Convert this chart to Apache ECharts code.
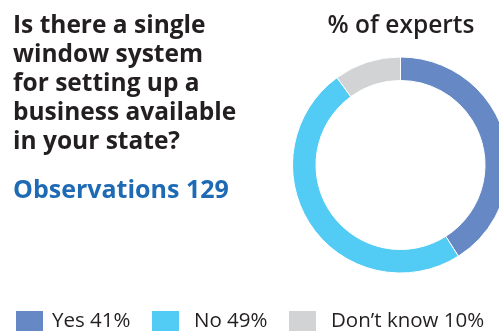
<!DOCTYPE html>
<html>
<head>
<meta charset="utf-8">
<script src="https://cdn.jsdelivr.net/npm/echarts@6/dist/echarts.min.js"></script>
<style>
  html, body { margin: 0; padding: 0; background: #fff; }
  #chart { width: 499px; height: 331px; }
</style>
</head>
<body>
<div id="chart"></div>
<script>
// Survey answers and their shares
const categories = ['Yes', 'No', "Don\u2019t know"];
const shares = [41, 49, 10];
const colors = ['#6689c6', '#52cbf5', '#d1d3d4'];
const questionLines = ['Is there a single', 'window system', 'for setting up a', 'business available', 'in your state?'];
const observations = 129;

const chart = echarts.init(document.getElementById('chart'), null, { renderer: 'canvas' });

// One legend block per answer so each swatch sits at its own spot on the bottom row
const legendLefts = [14, 150, 287];
const legendTextGaps = [3, 9, 9];
const legends = categories.map((name, i) => ({
  data: [name],
  left: legendLefts[i],
  top: 309,
  padding: 0,
  orient: 'horizontal',
  icon: 'rect',
  itemWidth: 29,
  itemHeight: 22,
  itemGap: 0,
  selectedMode: false,
  formatter: n => n + ' ' + shares[categories.indexOf(n)] + '%',
  textStyle: { fontFamily: 'Open Sans', fontSize: 20.5, color: '#231f20', padding: [0, 0, 0, legendTextGaps[i]] }
}));

chart.setOption({
  animation: false,
  color: colors,
  title: [
    {
      text: questionLines.join('\n'),
      left: 13, top: 12,
      padding: 0,
      textStyle: { fontFamily: 'Open Sans', fontWeight: 'bold', fontSize: 24.5, lineHeight: 29, color: '#231f20' }
    },
    {
      text: 'Observations ' + observations,
      left: 13, top: 178,
      padding: 0,
      textStyle: { fontFamily: 'Open Sans', fontWeight: 'bold', fontSize: 25, color: '#1f6ab4' }
    },
    {
      text: '% of experts',
      left: 401, top: 14, textAlign: 'center',
      padding: 0,
      textStyle: { fontFamily: 'Open Sans', fontWeight: 600, fontSize: 24.5, color: '#231f20' }
    }
  ],
  legend: legends,
  series: [{
    type: 'pie',
    center: [400.5, 165],
    radius: [84.5, 108],
    startAngle: 90,
    clockwise: true,
    label: { show: false },
    labelLine: { show: false },
    silent: true,
    itemStyle: { borderColor: '#ffffff', borderWidth: 1 },
    data: categories.map((name, i) => ({ name, value: shares[i] }))
  }]
});
</script>
</body>
</html>
